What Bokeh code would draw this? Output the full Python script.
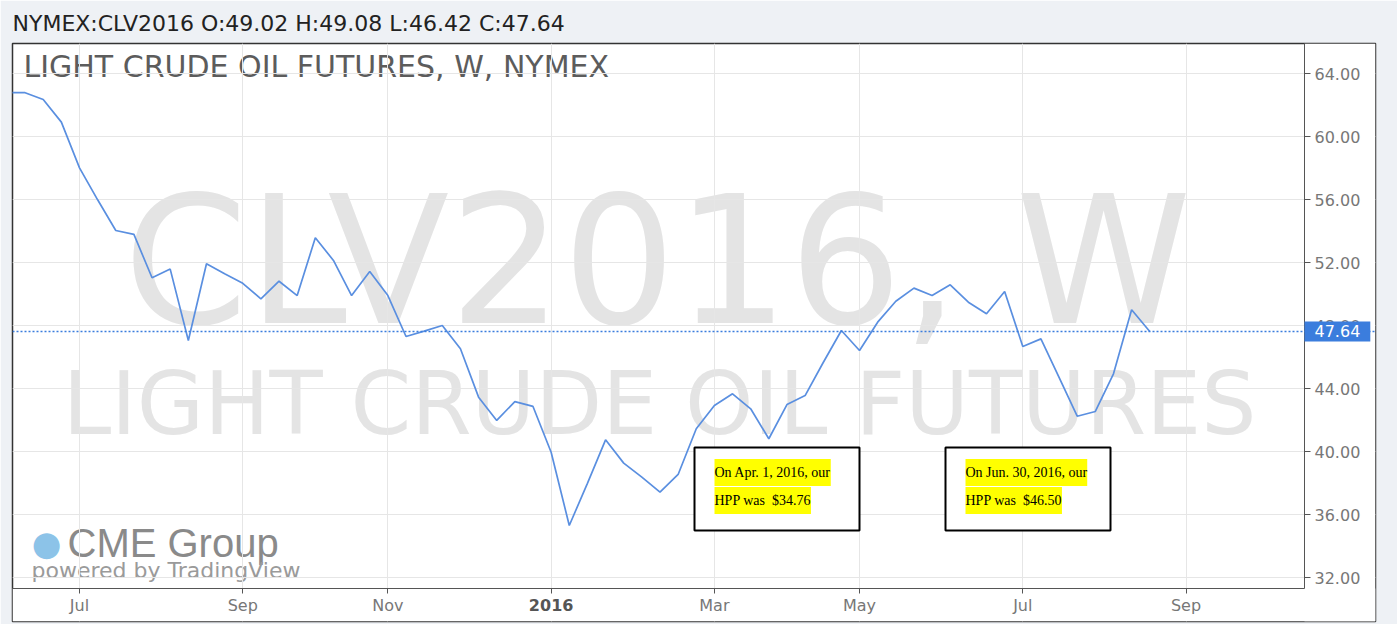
from bokeh.plotting import figure
from bokeh.models import Range1d, FixedTicker, Label, BoxAnnotation, Span
from bokeh.embed import file_html
from bokeh.resources import INLINE

# ---------------- data ----------------
# weekly bars, index 0 = week of Jul 6 2015
week_index = [-4, -3, -2, -1, 0, 1, 2, 3, 4, 5, 6, 7, 8, 9, 10, 11, 12, 13, 14, 15,
              16, 17, 18, 19, 20, 21, 22, 23, 24, 25, 26, 27, 28, 29, 30, 31, 32, 33,
              34, 35, 36, 37, 38, 39, 40, 41, 42, 43, 44, 45, 46, 47, 48, 49, 50, 51,
              52, 53, 54, 55, 56, 57, 58, 59]
close = [62.80, 62.80, 62.37, 60.93, 58.03, 56.00, 54.05, 53.80, 51.05, 51.60,
         47.07, 51.94, 51.30, 50.70, 49.71, 50.83, 49.92, 53.59, 52.15, 49.92,
         51.45, 49.92, 47.32, 47.66, 48.02, 46.54, 43.47, 41.99, 43.19, 42.88,
         39.97, 35.32, 38.00, 40.76, 39.28, 38.39, 37.44, 38.56, 41.46, 42.94,
         43.68, 42.73, 40.83, 43.00, 43.57, 45.67, 47.70, 46.43, 48.23, 49.56,
         50.39, 49.92, 50.60, 49.50, 48.76, 50.18, 46.69, 47.17, 44.72, 42.26,
         42.56, 44.95, 49.02, 47.64]
month_ticks = [0, 9, 17, 26, 35, 43, 52, 61]
month_labels = ["Jul", "Sep", "Nov", "2016", "Mar", "May", "Jul", "Sep"]
year_tick = 26
price_ticks = [32, 36, 40, 44, 48, 52, 56, 60, 64]
last_close = 47.64
header = "NYMEX:CLV2016 O:49.02 H:49.08 L:46.42 C:47.64"
chart_title = "LIGHT CRUDE OIL FUTURES, W, NYMEX"
watermark_1 = "CLV2016, W"
watermark_2 = "LIGHT CRUDE OIL FUTURES"
notes = [("On Apr. 1, 2016, our", "HPP was\u00a0 $34.76"),
         ("On Jun. 30, 2016, our", "HPP was\u00a0 $46.50")]

# ---------------- layout ----------------
W, H = 1397, 624
OL, OR, OT, OB = 12, 1375, 43, 621      # outer box (frame)
PR, PB = 1304, 588                      # price pane right / bottom edge
X0, PXW = 79.0, 18.14      # pixel of week 0, pixels per week
Y64, PXU = 73.3, 15.75     # pixel of 64.00, pixels per dollar


def dx(px):
    return (px - X0) / PXW


def dy(py):
    return 64 - (py - Y64) / PXU


BLUE = "#5a8fe0"
TAG = "#3b7ddd"
GREY_BG = "#eef1f5"

p = figure(width=W, height=H, output_backend="svg", toolbar_location=None,
           x_range=Range1d(dx(OL), dx(OR)), y_range=Range1d(dy(OB), dy(OT)),
           y_axis_location="right",
           min_border_left=OL, min_border_right=W - OR,
           min_border_top=OT, min_border_bottom=H - OB)

p.border_fill_color = GREY_BG
p.background_fill_color = "white"
p.outline_line_color = "#333333"
p.outline_line_width = 1.5

# header as title
p.title.text = header
p.title.text_font = "DejaVu Sans"
p.title.text_font_size = "22px"
p.title.text_font_style = "normal"
p.title.text_color = "#222222"
p.title.align = "left"
p.title.standoff = 16

# axes placed at the edges of the price pane
xa = p.xaxis[0]
xa.fixed_location = dy(PB)
xa.bounds = (dx(OL), dx(PR))
xa.ticker = FixedTicker(ticks=month_ticks)
xa.major_label_overrides = {t: ("" if t == year_tick else lab)
                            for t, lab in zip(month_ticks, month_labels)}
xa.minor_tick_line_color = None
xa.major_tick_in = 0
xa.major_tick_out = 5
xa.axis_line_color = "#555555"
xa.major_tick_line_color = "#555555"
xa.major_label_text_font = "DejaVu Sans"
xa.major_label_text_font_size = "16px"
xa.major_label_text_color = "#777777"
xa.major_label_standoff = 2

ya = p.yaxis[0]
ya.fixed_location = dx(PR)
ya.bounds = (dy(PB), dy(OT))
ya.ticker = FixedTicker(ticks=price_ticks)
ya.major_label_overrides = {t: f"{t:.2f}" for t in price_ticks}
ya.minor_tick_line_color = None
ya.major_tick_in = 0
ya.major_tick_out = 6
ya.axis_line_color = "#555555"
ya.major_tick_line_color = "#555555"
ya.major_label_text_font = "DejaVu Sans"
ya.major_label_text_font_size = "16px"
ya.major_label_text_color = "#777777"
ya.major_label_standoff = 4

p.xgrid.grid_line_color = "#e6e6e6"
p.ygrid.grid_line_color = "#e6e6e6"

# white scale areas (hide grid there)
p.add_layout(BoxAnnotation(left=dx(PR), fill_color="white", fill_alpha=1.0,
                           line_alpha=0, level="underlay"))
p.add_layout(BoxAnnotation(top=dy(PB), fill_color="white", fill_alpha=1.0,
                           line_alpha=0, level="underlay"))

# watermarks and in-chart titles
p.add_layout(Label(x=dx(657), y=dy(261), text=watermark_1, text_align="center",
                   text_baseline="middle", text_font="DejaVu Sans",
                   text_font_size="178px", text_color="#e4e4e4", level="image"))
p.add_layout(Label(x=dx(659), y=dy(403), text=watermark_2, text_align="center",
                   text_baseline="middle", text_font="DejaVu Sans",
                   text_font_size="87px", text_color="#e4e4e4", level="image"))
p.add_layout(Label(x=dx(23), y=dy(66), text=chart_title, text_align="left",
                   text_baseline="middle", text_font="DejaVu Sans",
                   text_font_size="30px", text_color="#5c5c5c", level="image"))

# CME logo
p.add_layout(Label(x=dx(46), y=dy(542), text="\u25CF", text_align="center",
                   text_baseline="middle", text_font="DejaVu Sans",
                   text_font_size="34px", text_color="#8cc3e8", level="image"))
p.add_layout(Label(x=dx(67), y=dy(542), text="CME Group", text_align="left",
                   text_baseline="middle", text_font="Liberation Sans",
                   text_font_size="40px", text_color="#8a8a8a", level="image"))
p.add_layout(Label(x=dx(31), y=dy(570), text="powered by TradingView", text_align="left",
                   text_baseline="middle", text_font="DejaVu Sans",
                   text_font_size="22px", text_color="#9a9a9a", level="image"))

# price line
p.line(week_index, close, line_color=BLUE, line_width=1.7)
p.add_layout(Span(location=last_close, dimension="width", line_color=TAG,
                  line_dash="2 2", line_width=1.5, line_alpha=1.0))

# current price tag
p.add_layout(Label(x=dx(PR), y=last_close, text=f"{last_close:.2f}", text_align="left",
                   text_baseline="middle", text_font="DejaVu Sans", text_font_size="16px",
                   text_color="white", background_fill_color=TAG,
                   padding=(10, 10, 4, 4)))

# bold year label on x axis
p.add_layout(Label(x=year_tick, y=dy(604), text=month_labels[month_ticks.index(year_tick)],
                   text_align="center", text_baseline="middle", text_font="DejaVu Sans",
                   text_font_size="16px", text_font_style="bold", text_color="#555555"))

# annotation boxes
for (l1, l2), left in zip(notes, [694, 945]):
    p.add_layout(BoxAnnotation(left=dx(left), right=dx(left + 165), top=dy(447), bottom=dy(530),
                               fill_color="white", fill_alpha=1.0,
                               line_color="black", line_alpha=1.0, line_width=2))
    for txt, py in [(l1, 472), (l2, 500)]:
        p.add_layout(Label(x=dx(left + 20), y=dy(py), text=txt, text_align="left",
                           text_baseline="middle", text_font="Liberation Serif",
                           text_font_size="14px", text_color="black",
                           background_fill_color="yellow", padding=(0, 0, 6, 6)))

open("out.html", "w").write(file_html(p, INLINE))
